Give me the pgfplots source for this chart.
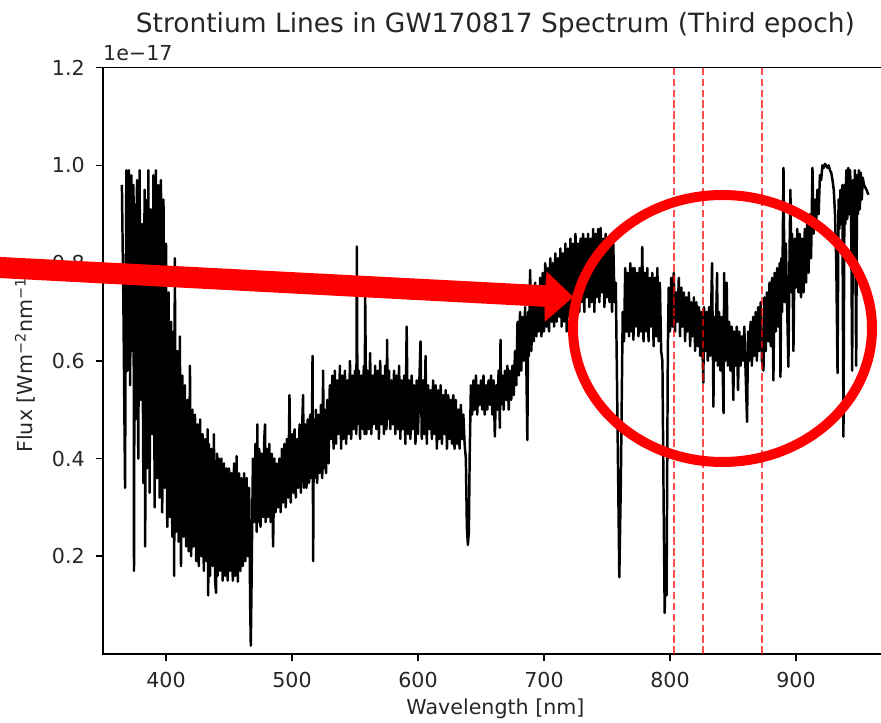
\documentclass[border=0pt]{standalone}
\usepackage{fontspec}
\setmainfont{DejaVu Sans}
\usepackage{pgfplots}
\pgfplotsset{compat=1.18}
\begin{document}
\begin{tikzpicture}
\useasboundingbox (0,0) rectangle (427.64pt,350.94pt);
\clip (0,0) rectangle (427.64pt,350.94pt);
\begin{axis}[
  name=ax,
  at={(50.0pt,33.49pt)}, anchor=south west,
  width=381.0pt, height=284.6pt, scale only axis,
  xmin=350, xmax=973, ymin=0, ymax=1.2,
  clip mode=individual,
  xtick={400,500,600,700,800,900}, xticklabels={400,500,600,700,800,900},
  ytick={0.2,0.4,0.6,0.8,1.0,1.2}, yticklabels={0.2,0.4,0.6,0.8,1.0,1.2},
  tick label style={font=\fontsize{10}{12}\selectfont, text=black!85},
  xticklabel style={inner sep=0pt, anchor=north, yshift=-5.2pt},
  yticklabel style={inner sep=0pt, anchor=east, xshift=-5.2pt},
  axis line style={line width=0.8pt},
  every tick/.style={black, line width=0.8pt},
  major tick length=3.5pt,
  tick align=outside,
  xtick pos=lower, ytick pos=left,
  every axis title shift=0pt,
  title={Strontium Lines in GW170817 Spectrum (Third epoch)},
  title style={at={(axis description cs:0.5,1.0608)}, anchor=base, inner sep=0pt,
    font=\fontsize{12.85}{15}\selectfont, text=black!85},
  xlabel={Wavelength [nm]},
  xlabel style={at={(axis description cs:0.5,-0.104)}, anchor=base, inner sep=0pt,
    font=\fontsize{10}{12}\selectfont, text=black!85},
  ylabel={Flux [Wm\textsuperscript{−2}nm\textsuperscript{−1}]},
  ylabel style={at={(axis description cs:-0.0892,0.5)}, anchor=base, inner sep=0pt,
    font=\fontsize{10}{12}\selectfont, text=black!85},
]
% observed flux (units of 1e-17 W m^-2 nm^-1)
\addplot[black, line width=1.2pt, line join=round] coordinates {
(365,0.96) (366.2,0.71) (367.5,0.34) (368.5,0.99) (369.5,0.58) (370.5,0.99) (371.5,0.55) (372.5,0.98) (373.5,0.62) (374.2,0.96)
(374.6,0.17) (375.2,0.92) (376,0.48) (377,0.97) (378,0.40) (379,0.99) (380,0.52) (381,0.88) (382,0.35) (383,0.95)
(383.5,0.22) (384,0.93) (385,0.38) (386,0.99) (387,0.33) (388,0.91) (389,0.45) (390,0.98) (391,0.30) (392,0.99)
(393,0.36) (394,0.96) (395,0.32) (396,0.97) (397,0.29) (398,0.93) (399,0.34) (400,0.84) (401,0.26) (402,0.74)
(403,0.28) (404,0.68) (405,0.24) (406,0.66) (406.5,0.16) (407,0.81) (408,0.25) (409,0.62) (410,0.23) (411,0.65)
(411.9,0.18) (413,0.57) (414,0.24) (415,0.55) (416,0.22) (417,0.52) (418,0.21) (419,0.59) (420,0.20) (421,0.50)
(422,0.22) (423,0.49) (424,0.19) (425,0.47) (426,0.18) (427,0.48) (428,0.20) (429,0.45) (430,0.17) (431,0.44)
(432,0.19) (433,0.46) (433.5,0.12) (434,0.43) (435,0.16) (436,0.42) (437,0.18) (438,0.45) (439,0.15) (439.7,0.125)
(440.5,0.41) (441,0.16) (442,0.40) (443,0.17) (444,0.40) (445,0.15) (446,0.39) (447,0.16) (448,0.38) (449,0.15)
(450,0.38) (451,0.17) (452,0.37) (453,0.15) (454,0.39) (455,0.16) (456,0.405) (457,0.148) (458,0.37) (459,0.17)
(460,0.36) (461,0.18) (462,0.37) (463,0.19) (464,0.36) (465,0.20) (466,0.34) (466.8,0.10) (467.3,0.017) (467.8,0.12)
(468.5,0.29) (469,0.40) (470,0.27) (471,0.43) (472,0.25) (472.5,0.47) (473,0.27) (474,0.42) (475,0.26) (476,0.41)
(477,0.28) (478,0.44) (478.6,0.47) (479,0.27) (480,0.42) (481,0.28) (482,0.43) (483,0.27) (484,0.41) (485,0.22)
(486,0.40) (487,0.29) (488,0.39) (489,0.30) (490,0.40) (491,0.29) (492,0.42) (493,0.31) (494,0.43) (495,0.30)
(496,0.44) (497,0.32) (498,0.53) (499,0.31) (500,0.45) (501,0.33) (502,0.46) (503,0.32) (504,0.44) (505,0.34)
(506,0.47) (507,0.33) (508,0.46) (508.8,0.53) (509.5,0.34) (510.5,0.47) (511.5,0.34) (512.5,0.48) (513.5,0.35) (514.5,0.49)
(515.5,0.36) (516.3,0.61) (516.8,0.19) (517.3,0.48) (518,0.36) (519,0.50) (520,0.35) (521,0.49) (522,0.37) (523,0.51)
(524,0.36) (524.7,0.58) (525.3,0.38) (526,0.50) (527,0.37) (528,0.52) (529,0.39) (530,0.55) (531,0.44) (532,0.57)
(533,0.42) (534,0.58) (535,0.43) (536,0.56) (537,0.45) (538,0.59) (539,0.42) (540,0.57) (541,0.44) (542,0.58)
(543,0.43) (544,0.56) (545,0.45) (546,0.60) (547,0.44) (548,0.57) (549,0.46) (550,0.58) (551,0.45) (551.5,0.834)
(552,0.47) (553,0.58) (554,0.44) (555,0.57) (556,0.46) (557,0.59) (557.6,0.45) (558.1,0.73) (559,0.45) (560,0.58)
(561,0.46) (562,0.616) (563,0.45) (564,0.57) (565,0.47) (566,0.59) (567,0.46) (568,0.58) (569,0.44) (570,0.60)
(571,0.47) (572,0.57) (573,0.45) (574,0.59) (575,0.46) (575.5,0.643) (576,0.48) (577,0.58) (578,0.46) (579,0.56)
(580,0.47) (581,0.58) (582,0.45) (583,0.57) (584,0.46) (585,0.59) (586,0.44) (587,0.56) (588,0.46) (589,0.57)
(590,0.43) (591,0.67) (592,0.45) (593,0.56) (594,0.44) (595,0.57) (596,0.46) (597,0.55) (598,0.43) (599,0.56)
(600,0.45) (601,0.55) (602,0.64) (603,0.44) (604,0.56) (605,0.45) (606,0.61) (607,0.43) (608,0.55) (609,0.46)
(610,0.54) (611,0.44) (612,0.56) (613,0.45) (614,0.55) (615,0.42) (616,0.54) (617,0.44) (618,0.55) (619,0.43)
(620,0.53) (621,0.45) (622,0.54) (623,0.42) (624,0.53) (625,0.44) (626,0.52) (627,0.43) (628,0.53) (629,0.42)
(630,0.52) (631,0.43) (632,0.50) (633,0.42) (634,0.51) (635,0.44) (636,0.49) (637,0.43) (638,0.40) (638.8,0.26)
(639.6,0.223) (640.4,0.25) (641,0.40) (642,0.55) (643,0.49) (644,0.56) (645,0.50) (646,0.57) (647,0.49) (648,0.55)
(649,0.51) (650,0.56) (651,0.50) (652,0.57) (653,0.49) (654,0.55) (655,0.50) (656,0.56) (657,0.51) (658,0.57)
(659,0.49) (660,0.56) (661,0.445) (662,0.55) (663,0.50) (664,0.58) (665,0.463) (665.5,0.643) (666,0.51) (667,0.57)
(668,0.50) (669,0.58) (670,0.52) (671,0.59) (672,0.50) (673,0.58) (674,0.52) (675,0.59) (676,0.53) (677,0.62)
(678,0.55) (679,0.68) (680,0.57) (681,0.70) (682,0.58) (683,0.69) (684,0.60) (685,0.71) (686,0.59) (686.8,0.438)
(687.5,0.70) (688,0.61) (689,0.786) (690,0.62) (691,0.74) (692,0.64) (693,0.76) (694,0.65) (695,0.75) (696,0.66)
(697,0.77) (698,0.65) (699,0.78) (700,0.66) (701,0.80) (702,0.67) (703,0.79) (704,0.66) (705,0.81) (706,0.68)
(707,0.80) (708,0.67) (709,0.82) (710,0.68) (711,0.81) (712,0.69) (713,0.83) (714,0.67) (715,0.82) (716,0.68)
(717,0.84) (718,0.66) (719,0.83) (720,0.69) (721,0.85) (722,0.70) (723,0.84) (724,0.68) (725,0.86) (726,0.71)
(727,0.84) (728,0.70) (729,0.85) (730,0.72) (731,0.86) (732,0.70) (733,0.85) (734,0.73) (735,0.86) (736,0.71)
(737,0.85) (738,0.72) (739,0.87) (740,0.70) (741,0.86) (742,0.73) (743,0.87) (744,0.72) (745,0.872) (746,0.74)
(747,0.85) (748,0.71) (749,0.86) (750,0.73) (751,0.84) (752,0.72) (753,0.85) (754,0.70) (755,0.84) (756,0.72)
(757,0.76) (758,0.55) (759.8,0.157) (761,0.35) (762.5,0.70) (763.5,0.64) (764.5,0.79) (765.5,0.66) (766.5,0.78) (767.5,0.65)
(768.5,0.80) (769.5,0.66) (770.5,0.79) (771,0.643) (772,0.79) (773,0.67) (774,0.78) (775,0.65) (776,0.79) (777,0.66)
(778,0.833) (779,0.64) (780,0.78) (781,0.66) (782,0.79) (783,0.64) (784,0.77) (785,0.67) (786,0.78) (787,0.63)
(788,0.77) (789,0.65) (790,0.79) (791,0.64) (792,0.76) (793,0.62) (794,0.60) (795,0.30) (795.8,0.084) (796.5,0.20)
(797.3,0.12) (798.3,0.62) (799,0.75) (800,0.66) (801,0.77) (802,0.67) (803,0.78) (804,0.66) (805,0.74) (806,0.68)
(807,0.77) (808,0.65) (809,0.75) (810,0.67) (811,0.74) (812,0.64) (813,0.73) (814,0.66) (815,0.74) (816,0.63)
(817,0.72) (818,0.65) (819,0.73) (820,0.62) (821,0.72) (822,0.63) (823,0.71) (824,0.61) (825,0.70) (826.5,0.555)
(827,0.71) (828,0.62) (829,0.70) (830,0.60) (831,0.71) (832,0.61) (833.4,0.80) (834.5,0.506) (835,0.69) (836,0.60)
(837.4,0.78) (838,0.59) (839,0.70) (840,0.58) (841,0.69) (842.5,0.493) (843,0.78) (844,0.60) (845,0.76) (846,0.59)
(847,0.68) (848,0.58) (849,0.67) (850.3,0.52) (851,0.66) (852,0.59) (853,0.67) (854,0.54) (855,0.66) (856,0.59)
(857,0.65) (858,0.60) (859,0.67) (860,0.58) (861.2,0.475) (862,0.66) (863,0.60) (864,0.68) (865,0.59) (866,0.69)
(867,0.61) (868,0.70) (869,0.60) (870,0.71) (871,0.62) (872,0.72) (873,0.60) (874.2,0.58) (875,0.73) (876,0.62)
(877,0.74) (878,0.64) (879,0.76) (880,0.63) (881,0.77) (882.1,0.56) (883,0.78) (884,0.66) (885,0.79) (886,0.67)
(887,0.80) (887.7,0.567) (888.5,0.81) (889,0.70) (890.1,0.995) (891,0.72) (892,0.84) (893,0.71) (894,0.588) (895,0.84)
(895.6,0.95) (896.5,0.74) (897,0.86) (898,0.62) (899,0.85) (900,0.75) (901,0.87) (902,0.74) (903,0.86) (904,0.73)
(905,0.85) (906,0.74) (907,0.87) (908,0.76) (909,0.89) (910,0.78) (911,0.90) (912,0.81) (913.1,0.995) (914,0.86)
(915,0.93) (916,0.88) (917,0.95) (918,0.90) (919,0.98) (920,0.97) (921,1.0) (922,0.995) (923,1.003) (924,1.0)
(925,0.995) (926,1.0) (927,0.99) (928,0.985) (929,0.97) (930,0.95) (931,0.90) (932,0.80) (933,0.575) (933.8,0.93)
(934.5,0.87) (935.3,0.95) (936,0.88) (936.8,0.96) (937.7,0.445) (938.5,0.96) (939.2,0.88) (940,0.99) (940.7,0.89) (941.5,0.995)
(942.2,0.90) (943,0.99) (943.8,0.89) (944.6,0.58) (945.3,0.97) (946,0.89) (946.8,0.99) (947.8,0.59) (948.5,0.98) (949.2,0.90)
(950,0.99) (950.7,0.91) (951.5,0.985) (952.3,0.93) (953,0.975) (954,0.96) (955,0.955) (956,0.95) (957.5,0.94)
};
% Sr II triplet, shifted
\addplot[red, draw opacity=0.7, line width=1pt, dash pattern=on 3.7pt off 1.6pt] coordinates {(803.2,0) (803.2,1.2)};
\addplot[red, draw opacity=0.7, line width=1pt, dash pattern=on 3.7pt off 1.6pt] coordinates {(826.4,0) (826.4,1.2)};
\addplot[red, draw opacity=0.7, line width=1pt, dash pattern=on 3.7pt off 1.6pt] coordinates {(873.4,0) (873.4,1.2)};
\end{axis}
% scale factor of the axis values
\node[anchor=base west, inner sep=0pt, font=\fontsize{10}{12}\selectfont, text=black!85] at (49.9pt,321.8pt) {1e−17};
% highlight: arrow and ellipse
\begin{scope}[x=0.4854pt, y=-0.4854pt, shift={(0pt,350.94pt)}]
  \draw[red, line width=4.85pt] (722.5,328.5) ellipse [x radius=149.5, y radius=133.5];
  \fill[red] (-20,255.9) -- (545.5,285.3) -- (546.6,271.5) -- (573.3,297) -- (544.8,321.7) -- (544.5,306.8) -- (-20,277.0) -- cycle;
\end{scope}
\end{tikzpicture}
\end{document}
